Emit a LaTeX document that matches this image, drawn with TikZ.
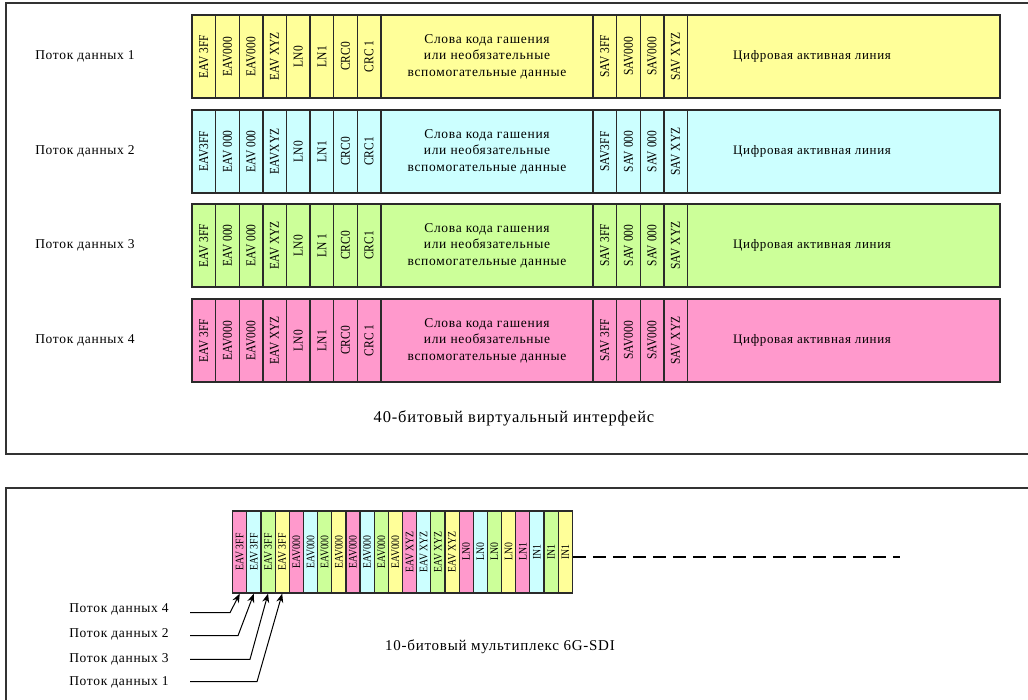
\documentclass[tikz,border=0pt]{standalone}
\usepackage{fontspec}
\setmainfont{Liberation Serif}[LetterSpace=5]
\newfontfamily\cond{Liberation Serif}[FakeStretch=0.85]
\usetikzlibrary{arrows.meta}
\definecolor{cyel}{HTML}{FFFF99}
\definecolor{ccya}{HTML}{CCFFFF}
\definecolor{cgre}{HTML}{CCFF99}
\definecolor{cpin}{HTML}{FF99CC}
\definecolor{linec}{HTML}{2A2A2A}
\tikzset{
  cell/.style={draw=linec, line width=1.4pt, minimum height=83pt, inner sep=0pt, font=\fontsize{13.5}{16.3}\selectfont},
  vcell/.style={cell, minimum width=23.6pt, font=\cond\fontsize{13.5}{14}\selectfont},
  mcell/.style={draw=linec, line width=1.2pt, minimum height=82pt, minimum width=14.15pt, inner sep=0pt, font=\cond\fontsize{11.5}{12}\selectfont},
  frame/.style={draw=black!80, line width=1.4pt},
  lbl/.style={font=\fontsize{13.5}{15}\selectfont},
  arr/.style={draw=black, line width=1pt, -{Stealth[length=9pt,width=7pt]}}
}
\newcommand\mkrow[5]{%
  \foreach \lab [count=\i] in {#4}{%
    \node[vcell, fill=#2] (r#1e\i) at ({192+(\i-0.5)*23.6},{#3+41.5}) {\rotatebox{90}{\lab}};}
  \node[cell, fill=#2, minimum width=212pt] (r#1b) at (487,{#3+41.5})
    {\begin{tabular}{@{}c@{}}Слова кода гашения\\или необязательные\\вспомогательные данные\end{tabular}};
  \foreach \lab [count=\i] in {#5}{%
    \node[vcell, fill=#2] (r#1s\i) at ({593+(\i-0.5)*23.6},{#3+41.5}) {\rotatebox{90}{\lab}};}
  \node[cell, fill=#2, minimum width=312.6pt] (r#1a) at (843.7,{#3+41.5}) {};
  \node[cell, draw=none, minimum height=0pt, font=\fontsize{13}{15}\selectfont] (r#1t) at (812,{#3+41.5}) {Цифровая активная линия};
  \node[lbl] (p#1) at (85,{#3+41.5}) {Поток данных #1};
}
\begin{document}
\begin{tikzpicture}[x=1pt,y=-1pt]
\useasboundingbox (0,0) rectangle (1028,699);
\begin{scope}
\clip (0,0) rectangle (1028,699);
\draw[frame] (6,3) rectangle (1040,454);
\draw[frame] (6,488) rectangle (1040,710);
\end{scope}
\mkrow{1}{cyel}{15}{EAV 3FF,EAV000,EAV000,EAV XYZ,LN0,LN1,CRC0,CRC 1}{SAV 3FF,SAV000,SAV000,SAV XYZ}
\mkrow{2}{ccya}{110}{EAV3FF,EAV 000,EAV 000,EAVXYZ,LN0,LN1,CRC0,CRC1}{SAV3FF,SAV 000,SAV 000,SAV XYZ}
\mkrow{3}{cgre}{204}{EAV 3FF,EAV 000,EAV 000,EAV XYZ,LN0,LN 1,CRC0,CRC1}{SAV 3FF,SAV 000,SAV 000,SAV XYZ}
\mkrow{4}{cpin}{299}{EAV 3FF,EAV000,EAV000,EAV XYZ,LN0,LN1,CRC0,CRC 1}{SAV 3FF,SAV000,SAV000,SAV XYZ}
\node[font=\fontsize{16.5}{18}\selectfont] (t40) at (514,418) {40-битовый виртуальный интерфейс};
% multiplex
\foreach \lab/\col [count=\i] in {EAV 3FF/cpin,EAV 3FF/ccya,EAV 3FF/cgre,EAV 3FF/cyel,
  EAV000/cpin,EAV000/ccya,EAV000/cgre,EAV000/cyel,
  EAV000/cpin,EAV000/ccya,EAV000/cgre,EAV000/cyel,
  EAV XYZ/cpin,EAV XYZ/ccya,EAV XYZ/cgre,EAV XYZ/cyel,
  LN0/cpin,LN0/ccya,LN0/cgre,LN0/cyel,
  LN1/cpin,IN1/ccya,IN1/cgre,IN1/cyel}{%
  \node[mcell, fill=\col] (m\i) at ({232.7+(\i-0.5)*14.15},552) {\rotatebox{90}{\lab}};}
\coordinate (dend) at (900,557);
\draw[line width=2.6pt, dash pattern=on 13pt off 7pt] (m24.east |- dend) -- (dend);
\node[font=\fontsize{15}{17}\selectfont] (t10) at (500,647) {10-битовый мультиплекс 6G-SDI};
% stream labels
\node[lbl] (q4) at (119,609) {Поток данных 4};
\node[lbl] (q2) at (119,634) {Поток данных 2};
\node[lbl] (q3) at (119,659) {Поток данных 3};
\node[lbl] (q1) at (119,682) {Поток данных 1};
\coordinate (a4) at (190,612.7); \coordinate (b4) at (230,612.7);
\coordinate (a2) at (190,635.7); \coordinate (b2) at (238,635.7);
\coordinate (a3) at (190,659.3); \coordinate (b3) at (250,659.3);
\coordinate (a1) at (190,681.7); \coordinate (b1) at (257,681.7);
\draw[arr] (a4) -- (b4) -- (m1.south);
\draw[arr] (a2) -- (b2) -- (m2.south);
\draw[arr] (a3) -- (b3) -- (m3.south);
\draw[arr] (a1) -- (b1) -- (m4.south);
\end{tikzpicture}
\end{document}
